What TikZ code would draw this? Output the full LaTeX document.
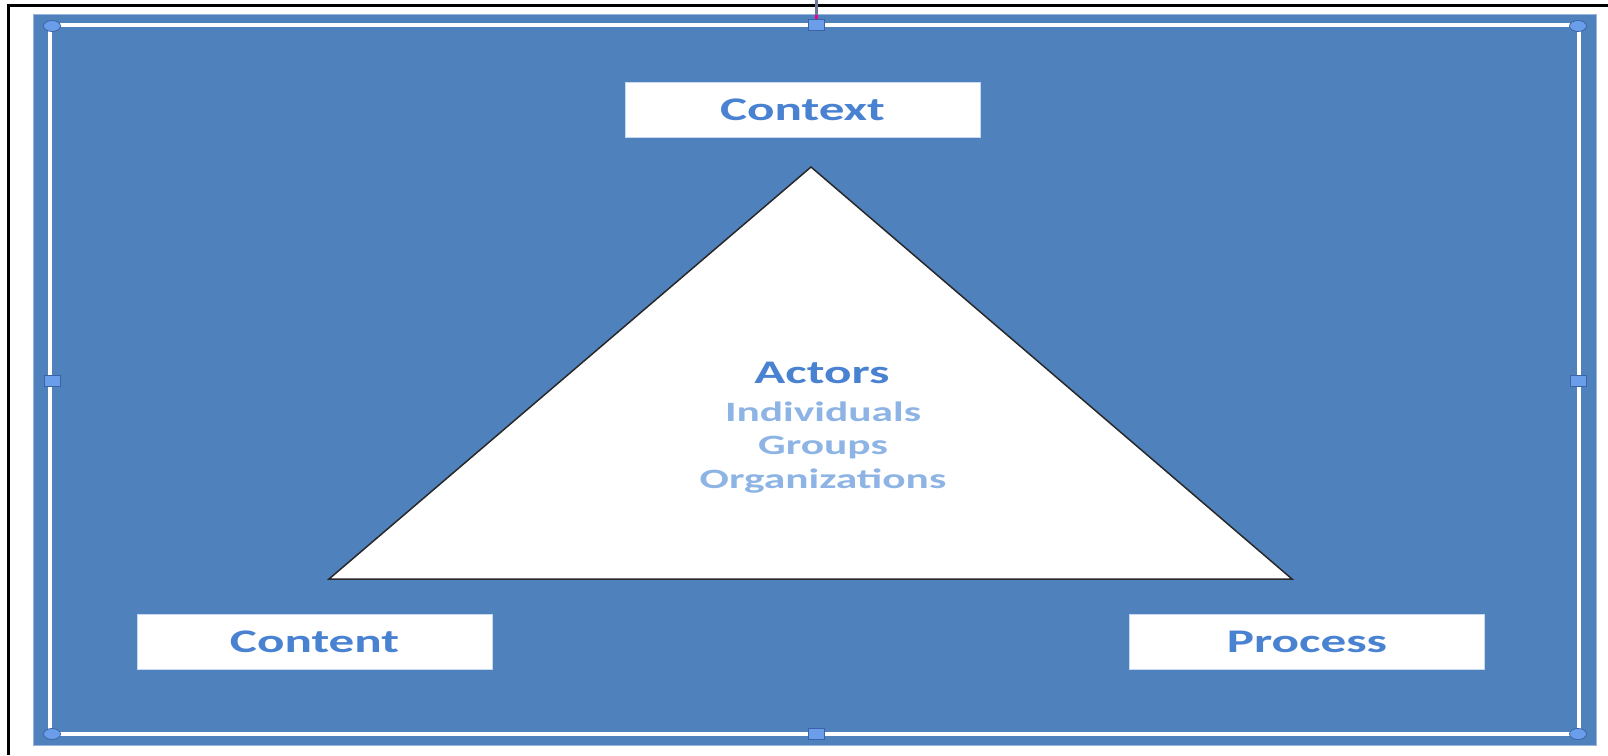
\documentclass[tikz,border=0pt]{standalone}
\usepackage{fontspec}
\setmainfont{Carlito}
\newfontfamily\lbl{Carlito}[FakeStretch=1.55]
\usetikzlibrary{shapes.geometric}
\definecolor{bg}{RGB}{79,129,189}
\definecolor{bgedge}{RGB}{150,180,222}
\definecolor{lbltxt}{RGB}{74,130,210}
\definecolor{subtxt}{RGB}{141,180,228}
\definecolor{boxedge}{RGB}{198,217,241}
\definecolor{hfill}{RGB}{106,158,234}
\definecolor{hdraw}{RGB}{60,100,165}
\definecolor{rotline}{RGB}{110,120,150}
\begin{document}
\begin{tikzpicture}[x=1pt,y=-1pt,
  labelbox/.style={fill=white, draw=boxedge, line width=1pt, minimum width=355pt,
    minimum height=55pt, inner sep=0pt,
    font=\lbl\bfseries\fontsize{33}{40}\selectfont, text=lbltxt},
  headtxt/.style={anchor=base, inner sep=0pt, font=\lbl\bfseries\fontsize{33}{40}\selectfont, text=lbltxt},
  subitem/.style={anchor=base, inner sep=0pt, font=\lbl\bfseries\fontsize{28}{34}\selectfont, text=subtxt},
  cornerhandle/.style={ellipse, fill=hfill, draw=hdraw, line width=0.8pt, minimum width=17pt, minimum height=11pt, inner sep=0pt},
  sidehandle/.style={rectangle, fill=hfill, draw=hdraw, line width=0.8pt, minimum width=16pt, minimum height=11pt, inner sep=0pt},
  frameline/.style={white, line width=4pt}]
\useasboundingbox (0,0) rectangle (1608,755);
\fill[white] (0,0) rectangle (1608,755);
% outer black frame
\draw[black, line width=3pt] (8,755) -- (8,5) -- (1608,5);
% blue panel
\fill[bg] (33,14) rectangle (1596,745);
\draw[bgedge, line width=1pt] (33,14) rectangle (1596,745);
% selection frame
\coordinate (tl) at (50,25);
\coordinate (br) at (1579,734);
\draw[frameline] (tl) rectangle (br);
% rotation handle stem
\coordinate (rtop) at (816,0);
\coordinate (rmid) at (816,15);
\coordinate (rbot) at (816,20);
\draw[rotline, line width=3pt] (rtop) -- (rmid);
\draw[magenta, line width=3pt] (rmid) -- (rbot);
% handles
\node[cornerhandle] (h1) at (52,26) {};
\node[cornerhandle] (h2) at (1578,26) {};
\node[cornerhandle] (h3) at (52,734) {};
\node[cornerhandle] (h4) at (1578,734) {};
\node[sidehandle] (h5) at (816,25) {};
\node[sidehandle] (h6) at (816,734) {};
\node[sidehandle] (h7) at (52,381) {};
\node[sidehandle] (h8) at (1578,381) {};
% triangle
\coordinate (apex) at (811,167);
\coordinate (bl) at (329,579);
\coordinate (brt) at (1292,579);
\draw[fill=white, draw={rgb,255:red,40;green,40;blue,40}, line width=1.5pt, line join=miter] (apex) -- (bl) -- (brt) -- cycle;
% label boxes
\node[labelbox] (context) at (802.5,109.5) {Context};
\node[labelbox] (content) at (314.5,642) {Content};
\node[labelbox] (process) at (1307,642) {Process};
% triangle text
\node[headtxt] (actors) at (822,383) {Actors};
\node[subitem] (indiv) at (823,421) {Individuals};
\node[subitem] (groups) at (823,454.5) {Groups};
\node[subitem] (orgs) at (823,488) {Organizations};
\end{tikzpicture}
\end{document}
